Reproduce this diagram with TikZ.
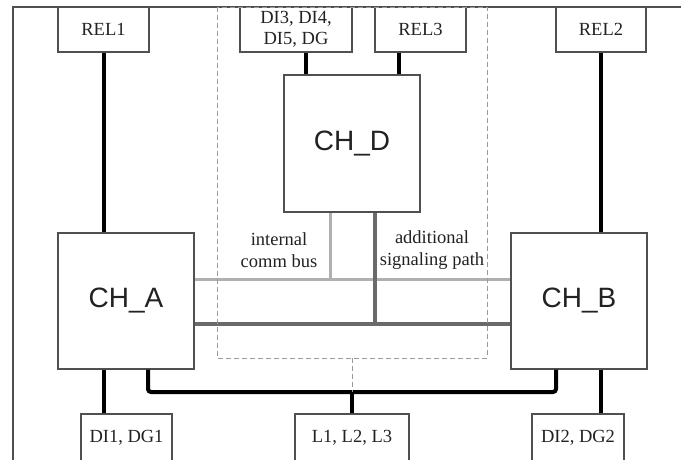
\documentclass[tikz,border=0pt]{standalone}
\usepackage{fontspec}
\setmainfont{Liberation Serif}
\newfontfamily\chfont{Liberation Sans}
\definecolor{boxgray}{HTML}{505050}
\definecolor{txt}{HTML}{222222}
\definecolor{lightbus}{HTML}{B0B0B0}
\definecolor{darkbus}{HTML}{6A6A6A}
\definecolor{dashgray}{HTML}{9A9A9A}
\begin{document}
\begin{tikzpicture}[x=1pt,y=-1pt,
  box/.style={draw=boxgray, line width=1.2pt, fill=white, inner sep=0pt, align=center,
    font=\fontsize{18.5}{21}\selectfont, text=txt},
  chbox/.style={box, minimum width=136pt, minimum height=136pt,
    font=\chfont\fontsize{28}{32}\selectfont},
  thick line/.style={line width=4pt, black},
  lbus/.style={line width=3pt, lightbus},
  dbus/.style={line width=3.6pt, darkbus},
  frameline/.style={draw=boxgray, line width=1.2pt},
  dashbox/.style={draw=dashgray, line width=0.9pt, dash pattern=on 5pt off 3pt},
  lbl/.style={align=center, inner sep=0pt, font=\fontsize{18.5}{22}\selectfont, text=txt}
]
\useasboundingbox (0,0) rectangle (681,459);
\clip (0,0) rectangle (681,459);
\fill[white] (0,0) rectangle (681,459);

% outer frame (only top and left visible)
\draw[frameline] (13,475) -- (13,7) -- (700,7);

% top boxes
\node[box, minimum width=91pt, minimum height=45pt] (REL1) at (103.5,29.5) {REL1};
\node[box, minimum width=112pt, minimum height=45pt] (DI3) at (296,29.5) {DI3, DI4,\\DI5, DG};
\node[box, minimum width=91pt, minimum height=45pt] (REL3) at (420.5,29.5) {REL3};
\node[box, minimum width=90pt, minimum height=45pt] (REL2) at (601,29.5) {REL2};

% channels
\node[chbox, minimum height=137pt] (CHD) at (352,143.5) {CH\_D};
\node[chbox] (CHA) at (126,301) {CH\_A};
\node[chbox] (CHB) at (579,301) {CH\_B};

% bottom boxes
\node[box, minimum width=91pt, minimum height=48pt] (DI1) at (126.5,438) {DI1, DG1};
\node[box, minimum width=114pt, minimum height=48pt] (L1) at (352,438) {L1, L2, L3};
\node[box, minimum width=92pt, minimum height=48pt] (DI2) at (578,438) {DI2, DG2};

% buses between channels
\draw[lbus] (CHA.east |- 0,279) -- (CHB.west |- 0,279);
\draw[lbus] ([xshift=-22pt]CHD.south) -- ([xshift=-22pt]CHD.south |- CHA.east |- 0,279);
\draw[dbus] (CHA.east |- 0,324) -- (CHB.west |- 0,324);
\draw[dbus] ([xshift=23pt]CHD.south) -- ([xshift=23pt]CHD.south |- 0,324);

% dashed enclosure
\draw[dashbox] (217,7) rectangle (487,358);
\coordinate (dashbot) at (352,358);

% thick links
\draw[thick line] (REL1.south) -- (REL1.south |- CHA.north);
\draw[thick line] ([xshift=23pt]CHD.north west) -- ([xshift=23pt]CHD.north west |- DI3.south);
\draw[thick line] ([xshift=-22pt]CHD.north east) -- ([xshift=-22pt]CHD.north east |- REL3.south);
\draw[thick line] (REL2.south) -- (REL2.south |- CHB.north);
\draw[thick line] (REL1.south |- CHA.south) -- (REL1.south |- DI1.north);
\draw[thick line] (REL2.south |- CHB.south) -- (REL2.south |- DI2.north);
\draw[thick line, rounded corners=3pt] ([xshift=22pt]CHA.south) -- ([xshift=22pt]CHA.south |- 0,392)
   -- ([xshift=-23pt]CHB.south |- 0,392) -- ([xshift=-23pt]CHB.south);
\draw[thick line] (L1.north |- 0,392) -- (L1.north);
\draw[dashbox] (dashbot) -- (dashbot |- 0,392);

% labels
\node[lbl] (lint) at (279,250) {internal\\comm bus};
\node[lbl] (ladd) at (432,250) {additional\\signaling path};
\end{tikzpicture}
\end{document}
